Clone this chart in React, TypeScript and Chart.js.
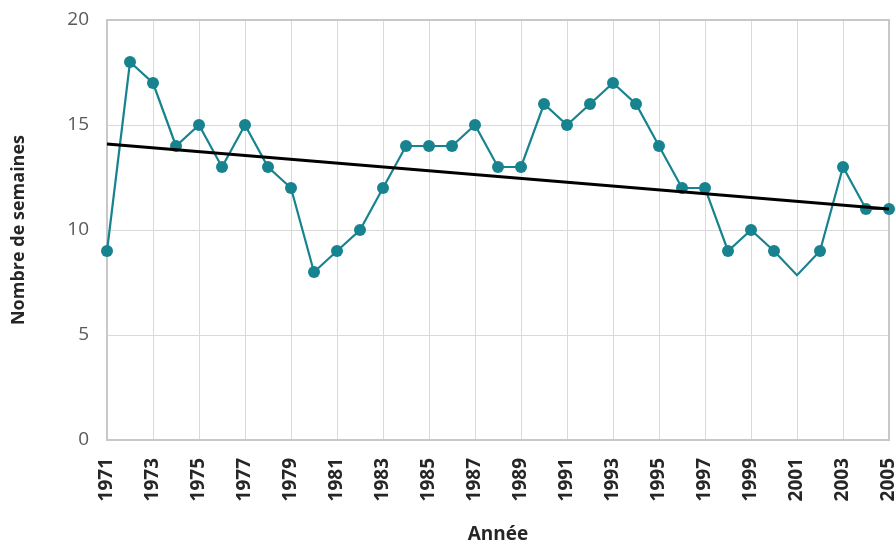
import React, { useEffect, useRef } from "react";
import { Chart, registerables } from "chart.js";

Chart.register(...registerables);

const years: string[] = [
  "1971","1972","1973","1974","1975","1976","1977","1978","1979","1980",
  "1981","1982","1983","1984","1985","1986","1987","1988","1989","1990",
  "1991","1992","1993","1994","1995","1996","1997","1998","1999","2000",
  "2001","2002","2003","2004","2005",
];
const weeks: number[] = [
  9, 18, 17, 14, 15, 13, 15, 13, 12, 8,
  9, 10, 12, 14, 14, 14, 15, 13, 13, 16,
  15, 16, 17, 16, 14, 12, 12, 9, 10, 9,
  7.85, 9, 13, 11, 11,
];
const hiddenMarkerYears: string[] = ["2001"];
const trendStart = 14.1;
const trendEnd = 11.0;
const yTicks: number[] = [0, 5, 10, 15, 20];

const FONT = "'Open Sans', 'DejaVu Sans', sans-serif";

export default function App() {
  const ref = useRef<HTMLCanvasElement | null>(null);

  useEffect(() => {
    if (!ref.current) return;
    const trend = years.map((_, i) =>
      i === 0 ? trendStart : i === years.length - 1 ? trendEnd : null
    );
    const radii = years.map((y) => (hiddenMarkerYears.includes(y) ? 0 : 6));

    const boxPlugin = {
      id: "plotBox",
      beforeDatasetsDraw(chart: any) {
        const { ctx, chartArea } = chart;
        ctx.save();
        ctx.strokeStyle = "#c8c8c8";
        ctx.lineWidth = 2;
        ctx.strokeRect(
          chartArea.left,
          chartArea.top,
          chartArea.right - chartArea.left,
          chartArea.bottom - chartArea.top
        );
        ctx.restore();
      },
    };

    const chart = new Chart(ref.current, {
      type: "line",
      data: {
        labels: years,
        datasets: [
          {
            label: "Nombre de semaines",
            data: weeks,
            borderColor: "#16838f",
            backgroundColor: "#16838f",
            borderWidth: 2.2,
            pointRadius: radii,
            pointHoverRadius: radii,
            pointBorderWidth: 0,
            tension: 0,
            order: 2,
          },
          {
            label: "Tendance",
            data: trend,
            borderColor: "#000000",
            borderWidth: 3,
            pointRadius: 0,
            spanGaps: true,
            tension: 0,
            order: 1,
          },
        ],
      },
      options: {
        responsive: false,
        animation: false,
        layout: { padding: { left: 0, right: 7, top: 20, bottom: 0 } },
        plugins: {
          legend: { display: false },
          tooltip: { enabled: false },
        },
        scales: {
          x: {
            type: "category",
            offset: false,
            border: { display: false },
            grid: {
              drawTicks: false,
              color: (c: any) => (c.index % 2 === 0 ? "#d9d9d9" : "rgba(0,0,0,0)"),
              lineWidth: 1,
            },
            ticks: {
              autoSkip: false,
              minRotation: 90,
              maxRotation: 90,
              padding: 18,
              color: "#262626",
              font: { family: FONT, size: 19, weight: "bold" },
              callback: (_v: any, i: number) => (i % 2 === 0 ? years[i] : ""),
            },
            title: {
              display: true,
              text: "Année",
              color: "#262626",
              font: { family: FONT, size: 19, weight: "bold" },
              padding: { top: 0, bottom: 2 },
            },
            afterFit: (s: any) => {
              s.height = 108;
              s.paddingLeft = 0;
              s.paddingRight = 0;
            },
          },
          y: {
            min: 0,
            max: 20,
            border: { display: false },
            grid: { drawTicks: false, color: "#d9d9d9", lineWidth: 1 },
            afterBuildTicks: (s: any) => {
              s.ticks = yTicks.map((v) => ({ value: v }));
            },
            ticks: {
              padding: 18,
              color: "#595959",
              font: { family: FONT, size: 19 },
            },
            title: {
              display: true,
              text: "Nombre de semaines",
              color: "#262626",
              font: { family: FONT, size: 18, weight: "bold" },
              padding: { top: 8, bottom: 0 },
            },
            afterFit: (s: any) => {
              s.width = 107;
              s.paddingTop = 0;
              s.paddingBottom = 0;
            },
          },
        },
      },
      plugins: [boxPlugin],
    });
    return () => chart.destroy();
  }, []);

  return (
    <div style={{ position: "absolute", left: 0, top: 0, width: 896, height: 548, background: "#fff" }}>
      <canvas ref={ref} width={896} height={548} style={{ display: "block" }} />
    </div>
  );
}
